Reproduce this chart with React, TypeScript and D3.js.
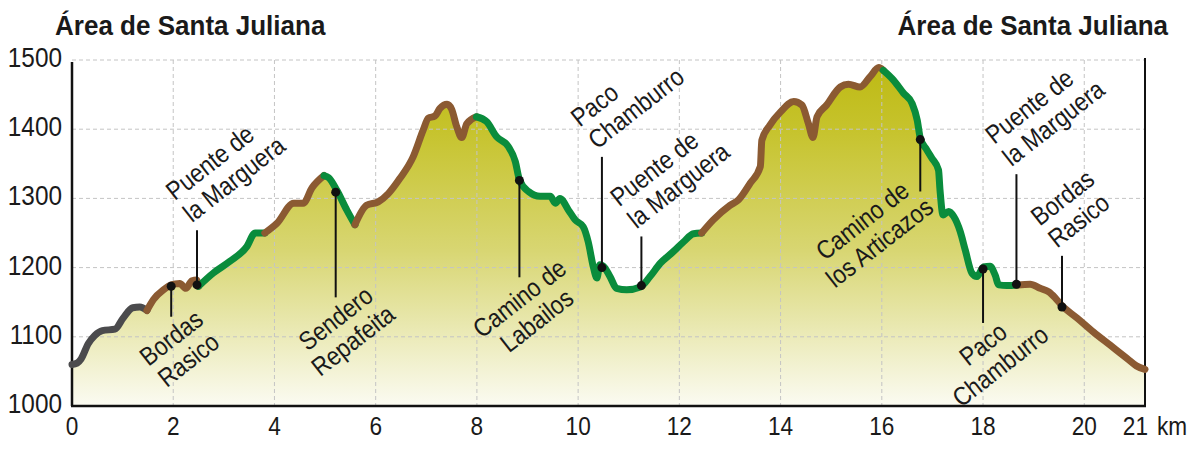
import React from "react";
import * as d3 from "d3";

// ---------- DATA ----------
const profileKm = [
  0.0, 0.1, 0.18, 0.32, 0.45, 0.6, 0.85, 1.01, 1.2, 1.34, 1.48,
  1.61, 1.81, 1.96, 2.13, 2.25, 2.37, 2.46, 2.5,
  2.79, 3.12, 3.45, 3.62, 3.81,
  4.05, 4.38, 4.57, 4.74, 4.98,
  5.07, 5.23, 5.43, 5.59,
  5.82, 6.05, 6.25, 6.48, 6.74, 6.94, 7.04, 7.17, 7.27, 7.41, 7.5, 7.6, 7.7, 7.8, 7.99,
  8.19, 8.39, 8.62, 8.76, 8.84, 9.02, 9.25, 9.45, 9.55, 9.64, 9.81, 9.94, 10.1, 10.2, 10.3,
  10.37, 10.43, 10.5, 10.63, 10.76, 10.96, 11.23, 11.42, 11.62, 11.88, 12.08, 12.28, 12.44,
  12.67, 13.0, 13.17, 13.4, 13.6, 13.63, 13.79, 14.0, 14.26, 14.42, 14.55, 14.64, 14.72,
  14.91, 15.18, 15.34, 15.57, 15.77, 15.94, 16.03,
  16.23, 16.43, 16.6, 16.7, 16.76, 16.89, 16.99, 17.12, 17.15, 17.21, 17.32, 17.42, 17.55,
  17.65, 17.78, 17.88, 18.01, 18.14, 18.24, 18.31, 18.47, 18.68,
  18.93, 19.13, 19.3, 19.43, 19.56, 19.86, 20.18, 20.51, 20.84, 21.03, 21.2,
];
const profileElev = [
  1060, 1062, 1068, 1090, 1102, 1109, 1111, 1127, 1142, 1143, 1138,
  1154, 1168, 1175, 1177, 1170, 1181, 1182, 1173,
  1192, 1209, 1230, 1250, 1250,
  1264, 1293, 1293, 1315, 1333,
  1330, 1312, 1283, 1262,
  1290, 1295, 1307, 1329, 1360, 1399, 1416, 1419, 1430, 1436, 1429, 1404, 1388, 1408, 1418,
  1411, 1389, 1375, 1353, 1327, 1310, 1303, 1303, 1293, 1300, 1283, 1269, 1259, 1237, 1201,
  1185, 1204, 1202, 1187, 1170, 1168, 1172, 1187, 1206, 1223, 1237, 1249, 1250,
  1269, 1290, 1298, 1322, 1346, 1384, 1406, 1425, 1440, 1435, 1408, 1388, 1418,
  1435, 1461, 1465, 1461, 1476, 1489, 1485,
  1471, 1452, 1437, 1413, 1387, 1370, 1358, 1341, 1312, 1276, 1281, 1274, 1252,
  1225, 1192, 1187, 1201, 1202, 1189, 1175, 1174, 1175,
  1176, 1170, 1165, 1156, 1145, 1127, 1107, 1088, 1069, 1058, 1053,
];

// track segments: start km, end km, surface type
const segmentStart = [0, 1.48, 2.5, 3.81, 4.98, 5.59, 7.99, 12.44, 16.03, 18.68];
const segmentEnd = [1.48, 2.5, 3.81, 4.98, 5.59, 7.99, 12.44, 16.03, 18.68, 21.2];
const segmentType = ["road", "track", "path", "track", "path", "track", "path", "track", "path", "track"];

// waypoints
const wpName = [
  ["Bordas", "Rasico"],
  ["Puente de", "la Marguera"],
  ["Sendero", "Repafeita"],
  ["Camino de", "Labailos"],
  ["Paco", "Chamburro"],
  ["Puente de", "la Marguera"],
  ["Camino de", "los Articazos"],
  ["Paco", "Chamburro"],
  ["Puente de", "la Marguera"],
  ["Bordas", "Rasico"],
];
const wpKm = [1.96, 2.47, 5.21, 8.84, 10.47, 11.25, 16.76, 18.0, 18.66, 19.56];
const wpElev = [1173, 1175, 1309, 1326, 1200, 1174, 1385, 1198, 1176, 1143];
const wpLeaderEnd = [1129, 1254, 1157, 1186, 1360, 1245, 1310, 1120, 1335, 1217];
const wpSide = ["below", "above", "below", "below", "above", "above", "below", "below", "above", "above"];

const xTickValues = [0, 2, 4, 6, 8, 10, 12, 14, 16, 18, 20];
const yTickValues = [1000, 1100, 1200, 1300, 1400, 1500];
const lastKmLabel = "21";
const unitLabel = "km";
const titleText = "Área de Santa Juliana";

// ---------- STYLE / LAYOUT ----------
const W = 1200;
const H = 451;
const left = 72;
const right = 1145;
const top = 60;
const bottom = 406;
const FONT = "'Liberation Sans', Arial, sans-serif";
const SX = 0.87; // horizontal condensing of the text
const INK = "#1a1a1a";
const colorFor: Record<string, string> = {
  road: "#4b4b4d",
  track: "#8b5a32",
  path: "#0a8c3c",
};
// label nudges (screen px) per waypoint
const labelNudgeX = [0, 0, 0, 0, 0, 0, -58, 0, 0, 0];
const labelNudgeY = [0, 0, 0, 0, 0, 0, 8, 0, 0, 0];

function CText(props: {
  x: number;
  y: number;
  size: number;
  anchor?: string;
  weight?: string;
  sx?: number;
  children: React.ReactNode;
}) {
  const { x, y, size, anchor = "start", weight = "normal", sx = SX, children } = props;
  return (
    <text
      transform={`translate(${x},${y}) scale(${sx},1)`}
      fontSize={size}
      fontWeight={weight}
      textAnchor={anchor}
      fill={INK}
    >
      {children}
    </text>
  );
}

export default function App() {
  const x = d3.scaleLinear().domain([0, 21.2]).range([left, right]);
  const y = d3.scaleLinear().domain([1000, 1500]).range([bottom, top]);
  const pts: [number, number][] = profileKm.map((k, i) => [k, profileElev[i]]);

  const area = d3
    .area<[number, number]>()
    .x((d) => x(d[0]))
    .y0(bottom)
    .y1((d) => y(d[1]))
    .curve(d3.curveMonotoneX);
  const line = d3
    .line<[number, number]>()
    .x((d) => x(d[0]))
    .y((d) => y(d[1]))
    .curve(d3.curveMonotoneX);

  const lh = 28;
  const fs = 26;

  return (
    <svg
      width={W}
      height={H}
      viewBox={`0 0 ${W} ${H}`}
      style={{ position: "absolute", left: 0, top: 0, background: "#fff" }}
      fontFamily={FONT}
    >
      <defs>
        <linearGradient id="fillGrad" gradientUnits="userSpaceOnUse" x1={0} y1={top} x2={0} y2={bottom}>
          <stop offset="0" stopColor="#bdb912" />
          <stop offset="0.2" stopColor="#c6c32c" />
          <stop offset="0.55" stopColor="#d8d672" />
          <stop offset="1" stopColor="#fbfbf2" />
        </linearGradient>
      </defs>

      {/* titles */}
      <CText x={55} y={35} size={28} weight="bold" sx={0.93}>
        {titleText}
      </CText>
      <CText x={1168} y={35} size={28} weight="bold" sx={0.93} anchor="end">
        {titleText}
      </CText>

      {/* area */}
      <path d={area(pts) || ""} fill="url(#fillGrad)" />

      {/* grid */}
      {yTickValues
        .filter((v) => v > 1000)
        .map((v) => (
          <line key={"gy" + v} x1={left} x2={right} y1={y(v)} y2={y(v)} stroke="#c4c4c4" strokeWidth={1} strokeDasharray="4 3" />
        ))}
      {xTickValues
        .filter((v) => v > 0)
        .map((v) => (
          <line key={"gx" + v} x1={x(v)} x2={x(v)} y1={top} y2={bottom} stroke="#c4c4c4" strokeWidth={1} strokeDasharray="4 3" />
        ))}

      {/* axes */}
      <line x1={left} x2={left} y1={top + 2} y2={bottom} stroke="#111" strokeWidth={2.5} />
      <line x1={right} x2={right} y1={top - 2} y2={bottom} stroke="#111" strokeWidth={2} />
      <line x1={left - 1} x2={right + 1} y1={bottom} y2={bottom} stroke="#111" strokeWidth={2.5} />

      {/* y tick labels */}
      {yTickValues.map((v) => (
        <CText key={"ty" + v} x={62} y={y(v) + 7} size={28} anchor="end">
          {v}
        </CText>
      ))}
      {/* x tick labels */}
      {xTickValues.map((v) => (
        <CText key={"tx" + v} x={x(v)} y={435} size={26} anchor="middle">
          {v}
        </CText>
      ))}
      <CText x={right + 3} y={435} size={26} anchor="end">
        {lastKmLabel}
      </CText>
      <CText x={right + 12} y={435} size={26}>
        {unitLabel}
      </CText>

      {/* profile line segments */}
      {segmentStart.map((s, i) => {
        const e = segmentEnd[i];
        const seg = pts.filter((p) => p[0] >= s - 1e-9 && p[0] <= e + 1e-9);
        return (
          <path
            key={"seg" + i}
            d={line(seg) || ""}
            fill="none"
            stroke={colorFor[segmentType[i]]}
            strokeWidth={7}
            strokeLinecap="round"
            strokeLinejoin="round"
          />
        );
      })}

      {/* waypoints */}
      {wpKm.map((k, i) => {
        const px = x(k);
        const py = y(wpElev[i]);
        const pe = y(wpLeaderEnd[i]);
        const lines = wpName[i];
        const above = wpSide[i] === "above";
        const nx = labelNudgeX[i];
        const ny = labelNudgeY[i];
        return (
          <g key={"wp" + i}>
            <line x1={px} x2={px} y1={py} y2={pe} stroke="#111" strokeWidth={2} />
            <circle cx={px} cy={py} r={4.5} fill="#111" />
            {above ? (
              <g transform={`translate(${px - 5 + nx},${pe - 7 + ny}) rotate(-38)`}>
                {lines.map((t, j) => (
                  <CText key={j} x={0} y={-(lines.length - 1 - j) * lh} size={fs}>
                    {t}
                  </CText>
                ))}
              </g>
            ) : (
              <g transform={`translate(${px + nx},${pe + 21 + ny}) rotate(-38)`}>
                {lines.map((t, j) => (
                  <CText key={j} x={0} y={9 + j * lh} size={fs} anchor="middle">
                    {t}
                  </CText>
                ))}
              </g>
            )}
          </g>
        );
      })}
    </svg>
  );
}
